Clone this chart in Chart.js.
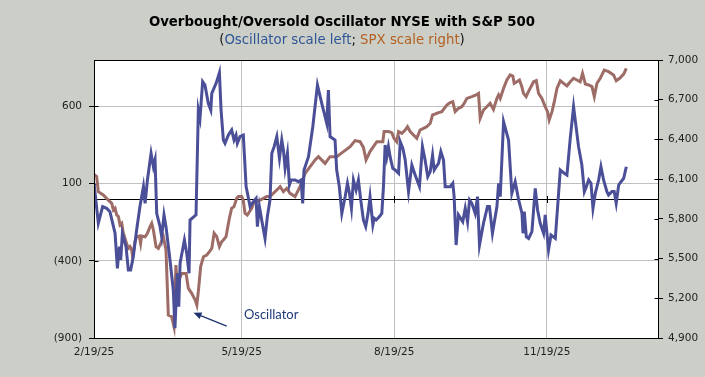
<!DOCTYPE html>
<html>
<head>
<meta charset="utf-8">
<script src="https://cdn.jsdelivr.net/npm/chart.js@4"></script>
<style>
  html, body { margin: 0; padding: 0; background: #cbcfc8; }
  canvas { display: block; }
</style>
</head>
<body>
<canvas id="chart-osc" width="705" height="377"></canvas>
<script>
// days counted from 2/19/25
const oscDays = [0, 2.6, 5.2, 7.6, 9.6, 12.7, 14.1, 15.3, 16.1, 17.1, 19.3, 20.7, 22.1, 23.7, 25.7, 27.7, 29.8, 30.8, 32.2, 34.4,
  35.8, 36.8, 37.8, 39.8, 40.8, 42.2, 43.4, 45.8, 47.8, 48.8, 50.2, 51.1, 51.9, 54.5, 55.9, 57.3, 57.9, 61.5, 62.9, 63.9,
  65.5, 66.9, 68.9, 70.4, 71.0, 73.6, 75.6, 76.6, 78.0, 79.0, 81.0, 83.0, 84.4, 85.6, 86.4, 88.0, 90.0, 91.7, 94.1, 96.1,
  97.7, 98.5, 99.7, 101.1, 103.1, 104.5, 106.1, 107.2, 108.6, 110.2, 111.8, 113.2, 114.2, 115.2, 116.6, 117.8, 118.8, 121.2, 123.2, 124.8,
  125.8, 126.6, 129.3, 131.9, 134.7, 137.3, 140.3, 141.3, 142.3, 145.3, 146.3, 147.9, 149.4, 151.4, 152.8, 154.0, 155.2, 156.4, 158.0, 159.4,
  160.8, 162.4, 163.8, 165.2, 166.4, 168.1, 168.9, 170.1, 172.1, 173.5, 174.5, 175.5, 176.5, 177.5, 178.5, 180.1, 181.5, 183.6, 184.6, 186.2,
  187.6, 189.6, 191.6, 193.6, 196.2, 198.0, 199.6, 201.2, 202.7, 204.1, 205.1, 206.3, 207.7, 209.1, 210.7, 211.7, 214.7, 216.3, 217.1, 218.3,
  219.7, 222.3, 223.8, 225.2, 226.4, 227.8, 229.8, 231.2, 232.4, 234.8, 237.2, 238.4, 240.2, 242.9, 243.9, 244.9, 246.9, 249.9, 251.9, 253.9,
  256.0, 258.0, 258.6, 259.4, 260.6, 262.0, 264.0, 266.0, 267.4, 269.0, 271.0, 272.0, 274.0, 275.5, 278.1, 281.1, 283.5, 285.1, 287.1, 289.1,
  292.1, 294.1, 295.6, 296.8, 298.2, 299.6, 300.8, 302.2, 304.2, 305.6, 307.2, 309.2, 310.2, 312.2, 313.6, 314.8, 316.3, 317.7, 319.3, 320.9];
const oscValues = [102, -157, -49, -60, -82, -222, -449, -308, -395, -222, -308, -460, -460, -373, -201, -49, 80, -28, 123, 296,
  209, 253, -93, -179, -244, -103, -179, -395, -589, -837, -481, -697, -416, -265, -352, -481, -136, -103, 576, 522,
  760, 738, 619, 576, 684, 749, 818, 576, 382, 360, 414, 447, 382, 414, 360, 404, 414, 80, -49, -17,
  4, -179, -49, -136, -255, -114, -6, 296, 339, 404, 263, 382, 317, 199, 296, 91, 123, 123, 112, 123,
  -28, 188, 274, 468, 738, 619, 490, 706, 404, 382, 188, 80, -93, 15, 102, 37, -60, 123, 58, 123,
  -6, -136, -179, -93, 15, -168, -125, -136, -114, -93, 80, 350, 274, 339, 274, 199, 188, 166, 371, 328,
  253, 48, 220, 155, 80, 339, 253, 145, 177, 285, 188, 209, 231, 307, 253, 80, 80, 102, 15, -298,
  -103, -147, -60, -147, -6, -28, -93, 15, -298, -157, -49, -49, -222, -49, 102, 15, 501, 382, 37, 112,
  -6, -93, -222, -82, -244, -255, -211, 69, -71, -157, -222, -103, -330, -233, -255, 188, 166, 155, 393, 598,
  339, 220, 48, 80, 123, 102, -60, 37, 123, 209, 123, 48, 26, 48, 48, -28, 91, 112, 134, 209];

const spxDays = [0, 1.6, 2.6, 5.6, 8.6, 10.7, 11.7, 12.7, 13.7, 14.7, 15.7, 16.7, 17.7, 19.3, 20.7, 21.7, 22.7, 23.3, 24.7, 25.7,
  27.3, 28.1, 28.7, 30.8, 32.2, 33.8, 34.8, 35.8, 37.4, 38.8, 40.2, 41.8, 43.4, 44.8, 46.8, 48.2, 49.4, 50.3, 51.1, 52.9,
  55.5, 56.9, 58.9, 61.0, 62.0, 63.0, 64.3, 66.0, 68.0, 69.6, 71.0, 72.4, 74.0, 75.6, 77.0, 78.0, 79.6, 81.6, 83.0, 84.4,
  86.0, 87.0, 89.0, 90.0, 91.0, 92.4, 93.7, 95.1, 96.1, 98.1, 100.1, 102.1, 104.1, 106.1, 110.2, 112.2, 114.2, 116.2, 118.2, 121.2,
  124.2, 127.3, 130.3, 133.3, 135.3, 139.3, 142.3, 146.3, 150.4, 154.4, 157.4, 160.4, 162.4, 164.0, 166.4, 170.5, 174.1, 174.9, 177.5, 179.5,
  180.9, 182.5, 183.6, 185.6, 187.6, 189.0, 190.6, 192.6, 194.6, 196.6, 198.6, 200.6, 202.7, 204.1, 205.7, 207.7, 209.7, 210.7, 212.7, 214.7,
  216.3, 217.7, 219.7, 221.7, 223.2, 224.8, 227.8, 230.4, 231.8, 232.8, 234.8, 236.8, 238.8, 240.8, 242.9, 243.9, 244.9, 246.9, 248.9, 250.9,
  252.5, 253.3, 254.9, 256.5, 257.9, 258.9, 260.5, 261.9, 265.0, 266.6, 268.0, 270.0, 272.0, 273.4, 274.4, 276.1, 277.5, 279.1, 281.1, 283.1,
  285.1, 287.1, 289.1, 291.1, 293.1, 294.5, 296.2, 298.2, 300.2, 301.6, 303.2, 305.2, 307.6, 310.2, 313.2, 314.8, 316.9, 319.3, 320.9];
const spxValues = [6136, 6119, 6005, 5980, 5942, 5917, 5867, 5880, 5829, 5817, 5754, 5766, 5691, 5628, 5577, 5590, 5565, 5514, 5628, 5665,
  5670, 5615, 5670, 5665, 5691, 5741, 5766, 5716, 5590, 5577, 5615, 5665, 5565, 5074, 5061, 4986, 5451, 5263, 5338, 5388,
  5388, 5275, 5237, 5187, 5149, 5263, 5439, 5514, 5527, 5552, 5577, 5691, 5665, 5590, 5628, 5640, 5665, 5804, 5880, 5892,
  5955, 5968, 5968, 5942, 5842, 5829, 5854, 5880, 5917, 5930, 5942, 5955, 5968, 5968, 6018, 6043, 6005, 6031, 5993, 5968,
  6043, 6144, 6194, 6245, 6270, 6219, 6270, 6270, 6308, 6345, 6391, 6383, 6340, 6245, 6308, 6383, 6383, 6459, 6459, 6451,
  6408, 6383, 6459, 6446, 6471, 6496, 6459, 6433, 6408, 6471, 6484, 6496, 6522, 6585, 6592, 6602, 6610, 6627, 6660, 6678,
  6685, 6610, 6635, 6647, 6673, 6710, 6723, 6736, 6748, 6559, 6622, 6647, 6673, 6627, 6710, 6736, 6710, 6786, 6849, 6887,
  6879, 6824, 6836, 6849, 6799, 6748, 6723, 6761, 6836, 6844, 6748, 6710, 6647, 6610, 6547, 6610, 6685, 6786, 6844, 6824,
  6804, 6836, 6862, 6849, 6836, 6899, 6819, 6811, 6799, 6723, 6824, 6862, 6924, 6912, 6887, 6844, 6862, 6894, 6937];

const xTickDays = [0, 89, 181, 273];
const xTickLabels = ['2/19/25', '5/19/25', '8/19/25', '11/19/25'];
const leftTicks = [-900, -400, 100, 600];

const FONT = "'DejaVu Sans', Verdana, sans-serif";

// background, zero line, frame, titles and the arrow note
const decorations = {
  id: 'decorations',
  beforeDraw(chart) {
    const ctx = chart.ctx, a = chart.chartArea;
    ctx.save();
    ctx.fillStyle = '#cbcfc8';
    ctx.fillRect(0, 0, chart.width, chart.height);
    ctx.fillStyle = '#ffffff';
    ctx.fillRect(a.left, a.top, a.right - a.left, a.bottom - a.top);
    ctx.restore();
  },
  beforeDatasetsDraw(chart) {
    const ctx = chart.ctx, a = chart.chartArea;
    const y0 = Math.round(chart.scales.y.getPixelForValue(0)) + 0.5;
    ctx.save();
    ctx.strokeStyle = '#000';
    ctx.lineWidth = 1;
    ctx.beginPath();
    ctx.moveTo(a.left, y0);
    ctx.lineTo(a.right, y0);
    xTickDays.slice(1).forEach(d => {
      const x = Math.round(chart.scales.x.getPixelForValue(d)) + 0.5;
      ctx.moveTo(x, y0 - 3.5);
      ctx.lineTo(x, y0 + 3.5);
    });
    // inner halves of the crossing axis ticks
    const L = Math.round(a.left) + 0.5, R = Math.round(a.right) + 0.5;
    leftTicks.slice(1).forEach(v => {
      const y = Math.round(chart.scales.y.getPixelForValue(v)) + 0.5;
      ctx.moveTo(L, y);
      ctx.lineTo(L + 4, y);
    });
    chart.scales.y2.ticks.forEach(t => {
      const y = Math.round(chart.scales.y2.getPixelForValue(t.value)) + 0.5;
      ctx.moveTo(R - 4, y);
      ctx.lineTo(R, y);
    });
    ctx.stroke();
    ctx.restore();
  },
  afterDraw(chart) {
    const ctx = chart.ctx, a = chart.chartArea;
    ctx.save();
    ctx.strokeStyle = '#000';
    ctx.lineWidth = 1;
    ctx.strokeRect(Math.round(a.left) + 0.5, Math.round(a.top) + 0.5,
      Math.round(a.right - a.left), Math.round(a.bottom - a.top));

    // title
    ctx.fillStyle = '#000';
    ctx.textBaseline = 'middle';
    ctx.textAlign = 'center';
    ctx.font = 'bold 13.3px ' + FONT;
    ctx.fillText('Overbought/Oversold Oscillator NYSE with S&P 500', 342, 23);

    // subtitle, coloured in parts
    const parts = [
      ['(', '#111'],
      ['Oscillator scale left', '#2f5597'],
      ['; ', '#111'],
      ['SPX scale right', '#b45f1f'],
      [')', '#111']
    ];
    ctx.font = '13.3px ' + FONT;
    ctx.textAlign = 'left';
    const total = parts.reduce((s, p) => s + ctx.measureText(p[0]).width, 0);
    let x = 342 - total / 2;
    parts.forEach(p => {
      ctx.fillStyle = p[1];
      ctx.fillText(p[0], x, 41);
      x += ctx.measureText(p[0]).width;
    });

    // arrow note
    const sx = chart.scales.x, sy = chart.scales.y;
    const tipX = sx.getPixelForValue(60), tipY = sy.getPixelForValue(-736);
    const tailX = sx.getPixelForValue(80), tailY = sy.getPixelForValue(-823);
    const ang = Math.atan2(tipY - tailY, tipX - tailX);
    ctx.strokeStyle = '#1f3470';
    ctx.fillStyle = '#1f3470';
    ctx.lineWidth = 1.3;
    ctx.beginPath();
    ctx.moveTo(tailX, tailY);
    ctx.lineTo(tipX - 5 * Math.cos(ang), tipY - 5 * Math.sin(ang));
    ctx.stroke();
    ctx.beginPath();
    ctx.moveTo(tipX, tipY);
    ctx.lineTo(tipX - 8 * Math.cos(ang) + 3.5 * Math.sin(ang), tipY - 8 * Math.sin(ang) - 3.5 * Math.cos(ang));
    ctx.lineTo(tipX - 8 * Math.cos(ang) - 3.5 * Math.sin(ang), tipY - 8 * Math.sin(ang) + 3.5 * Math.cos(ang));
    ctx.closePath();
    ctx.fill();
    ctx.font = "13px Lato, 'Liberation Sans', sans-serif";
    ctx.fillStyle = '#1f3a7a';
    ctx.textBaseline = 'middle';
    ctx.fillText('Oscillator', sx.getPixelForValue(90.4), sy.getPixelForValue(-753));
    ctx.restore();
  }
};

const ctx = document.getElementById('chart-osc').getContext('2d');
const chart = new Chart(ctx, {
  type: 'line',
  data: {
    datasets: [
      {
        label: 'Oscillator',
        data: oscDays.map((d, i) => ({ x: d, y: oscValues[i] })),
        yAxisID: 'y',
        borderColor: '#4a4f98',
        borderWidth: 3,
        pointRadius: 0,
        tension: 0,
        fill: false,
        order: 0
      },
      {
        label: 'SPX',
        data: spxDays.map((d, i) => ({ x: d, y: spxValues[i] })),
        yAxisID: 'y2',
        borderColor: '#9e6c66',
        borderWidth: 3,
        pointRadius: 0,
        tension: 0,
        fill: false,
        order: 1
      }
    ]
  },
  options: {
    responsive: false,
    animation: false,
    layout: { padding: { top: 60, left: 0, right: 0, bottom: 0 } },
    plugins: {
      legend: { display: false },
      tooltip: { enabled: false },
      title: { display: false }
    },
    scales: {
      x: {
        type: 'linear',
        position: 'bottom',
        min: 0,
        max: 340,
        afterBuildTicks: function(scale) {
          scale.ticks = xTickDays.map(v => ({ value: v }));
        },
        afterFit: function(scale) { scale.height = 39; },
        ticks: {
          autoSkip: false,
          maxRotation: 0,
          padding: 8,
          color: '#222',
          font: { family: FONT, size: 10.5 },
          callback: function(value) {
            return xTickLabels[xTickDays.indexOf(value)];
          }
        },
        grid: { color: '#c0c0c0', drawTicks: false },
        border: { color: '#000', width: 1 }
      },
      y: {
        position: 'left',
        min: -900,
        max: 900,
        afterBuildTicks: function(scale) {
          scale.ticks = leftTicks.map(v => ({ value: v }));
        },
        afterFit: function(scale) { scale.width = 94; },
        ticks: {
          padding: 7,
          color: '#222',
          font: { family: FONT, size: 10.5 },
          callback: function(value) {
            return value < 0 ? '(' + Math.abs(value) + ')' : String(value);
          }
        },
        grid: { color: '#c0c0c0', tickColor: '#000', tickLength: 5 },
        border: { color: '#000', width: 1 }
      },
      y2: {
        position: 'right',
        min: 4900,
        max: 7000,
        afterFit: function(scale) { scale.width = 47; },
        ticks: {
          stepSize: 300,
          padding: 5,
          color: '#222',
          font: { family: FONT, size: 10.5 }
        },
        grid: { drawOnChartArea: false, tickColor: '#000', tickLength: 5 },
        border: { color: '#000', width: 1 }
      }
    }
  },
  plugins: [decorations]
});
</script>
</body>
</html>
